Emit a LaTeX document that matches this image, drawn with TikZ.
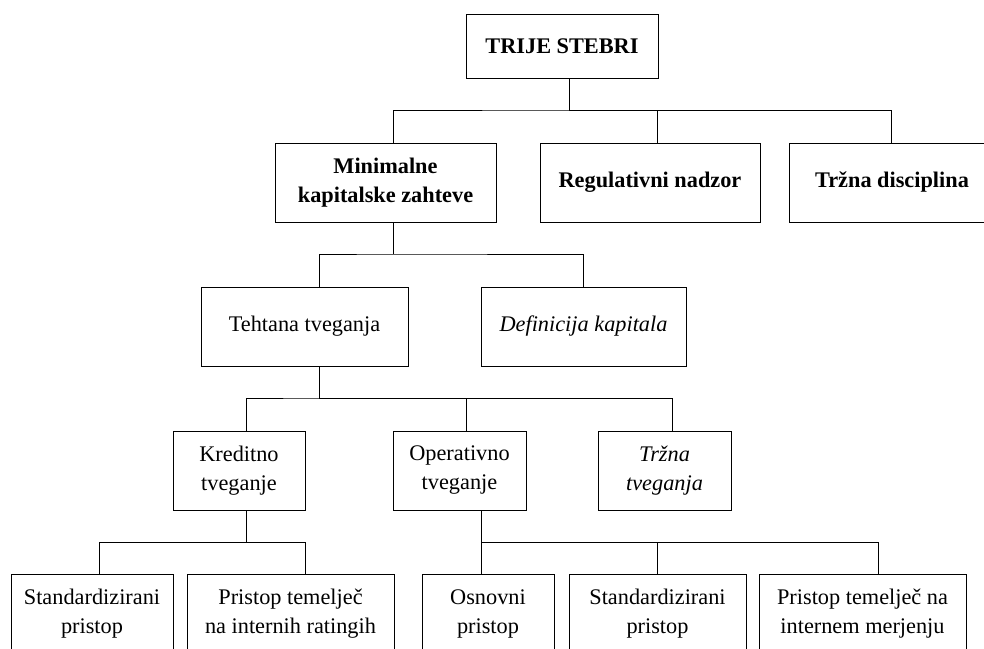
\documentclass[tikz,border=0pt]{standalone}
\usepackage{fontspec}
\setmainfont{Liberation Serif}
\usepackage{tikz}

\begin{document}
\begin{tikzpicture}[x=1pt,y=-1pt,
    box/.style={draw,line width=0.9pt,minimum height=79pt,inner sep=0pt,align=center,
      font=\fontsize{22.3}{29}\selectfont},
    bbox/.style={box,font=\fontsize{22.3}{29}\selectfont\bfseries},
    ibox/.style={box,font=\fontsize{22.3}{29}\selectfont\itshape},
    line/.style={line width=0.9pt}]
    \useasboundingbox (0,0) rectangle (984,648);
    \clip (0,0) rectangle (984,648);

    \node[bbox,minimum width=192pt,minimum height=64pt] (trije) at (562,46) {TRIJE STEBRI};

    \node[bbox,minimum width=221pt] (minimal) at (385.5,182.5) {Minimalne\\kapitalske zahteve};
    \node[bbox,minimum width=220pt] (regul) at (650,182.5) {Regulativni nadzor};
    \node[bbox,minimum width=206pt] (trzdisc) at (892,182.5) {Tržna disciplina};

    \node[box,minimum width=207pt] (tehtana) at (304.5,326.5) {Tehtana tveganja};
    \node[ibox,minimum width=205pt] (defkap) at (583.5,326.5) {Definicija kapitala};

    \node[box,minimum width=132pt] (kredit) at (239,470.5) {Kreditno\\tveganje};
    \node[box,minimum width=133pt] (operat) at (459.5,470.5) {Operativno\\tveganje};
    \node[ibox,minimum width=133pt] (trztveg) at (664.5,470.5) {Tržna\\tveganja};

    \node[box,minimum width=162pt] (stdkred) at (92,613.5) {Standardizirani\\pristop};
    \node[box,minimum width=207pt] (irb) at (290.5,613.5) {Pristop temelječ\\na internih ratingih};
    \node[box,minimum width=132pt] (osnovni) at (488,613.5) {Osnovni\\pristop};
    \node[box,minimum width=177pt] (stdop) at (657.5,613.5) {Standardizirani\\pristop};
    \node[box,minimum width=207pt] (ama) at (862.5,613.5) {Pristop temelječ na\\internem merjenju};

    % stebri
    \coordinate (b1) at (569,110);
    \draw[line] ([xshift=7pt]trije.south) -- (b1);
    \draw[line] ([xshift=7.5pt]minimal.north) |- (b1) -| ([xshift=7pt]regul.north);
    \draw[line] (b1) -| ([xshift=-1pt]trzdisc.north);

    % prvi steber
    \coordinate (b2) at (393,254);
    \draw[line] ([xshift=7.5pt]minimal.south) -- (b2);
    \draw[line] ([xshift=14.5pt]tehtana.north) |- (b2) -| (defkap.north);

    % tveganja
    \coordinate (b3) at (319,398);
    \draw[line] ([xshift=14.5pt]tehtana.south) -- (b3);
    \draw[line] ([xshift=7pt]kredit.north) |- (b3) -| ([xshift=6.5pt]operat.north);
    \draw[line] (b3) -| ([xshift=7.5pt]trztveg.north);

    % pristopi
    \coordinate (b4) at (246,542);
    \draw[line] ([xshift=7pt]kredit.south) -- (b4);
    \draw[line] ([xshift=7pt]stdkred.north) |- (b4) -| ([xshift=14.5pt]irb.north);
    \coordinate (b5) at (481,542);
    \draw[line] ([xshift=21.5pt]operat.south) -- (b5);
    \draw[line] ([xshift=-7pt]osnovni.north) -- (b5) -| (stdop.north);
    \draw[line] (b5) -| ([xshift=15.5pt]ama.north);
\end{tikzpicture}
\end{document}
